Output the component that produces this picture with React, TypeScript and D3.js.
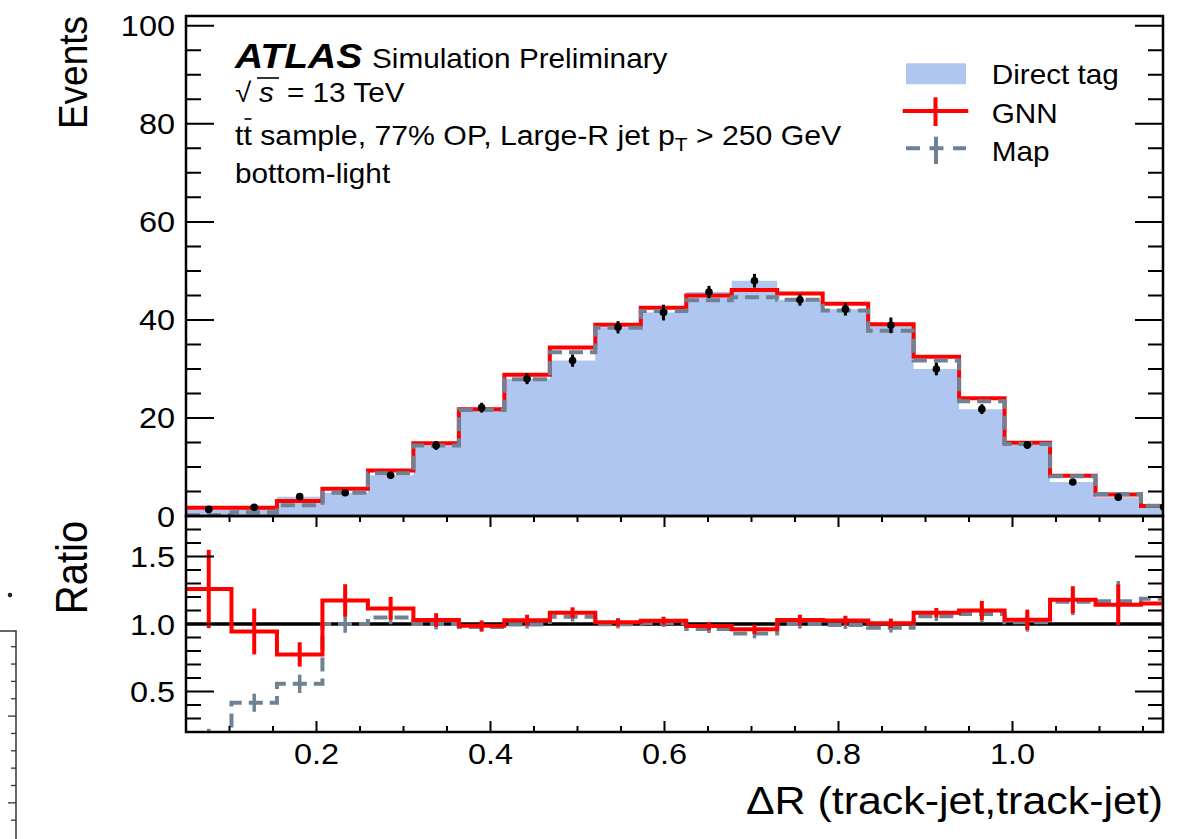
import React from 'react';
import * as d3 from 'd3';

// ---------- data ----------
const binLow = 0.05;
const binHigh = 1.2;
const nBins = 22;
const directTag = [1.35, 1.8, 3.95, 4.75, 8.3, 14.4, 22.1, 28.0, 31.7, 38.5, 41.5, 45.7, 48.0, 44.1, 42.2, 38.9, 30.0, 21.8, 14.5, 6.95, 3.85, 1.77];
const directErr = [0.3, 0.35, 0.5, 0.5, 0.7, 0.9, 1.0, 1.1, 1.25, 1.25, 1.6, 1.25, 1.4, 1.2, 1.3, 1.6, 1.3, 1.0, 0.8, 0.5, 0.4, 0.3];
const gnn = [1.7, 1.7, 3.06, 5.58, 9.26, 14.83, 21.8, 28.8, 34.35, 39.0, 42.5, 45.0, 46.1, 45.4, 43.3, 39.1, 32.5, 24.0, 14.96, 8.2, 4.4, 2.04];
const mapTag = [0.14, 0.75, 2.2, 4.75, 8.7, 14.4, 21.6, 27.9, 33.4, 38.4, 41.8, 44.0, 44.6, 44.1, 41.9, 37.8, 31.7, 23.4, 14.7, 8.1, 4.5, 2.1];
const gnnRatioErr = [0.29, 0.17, 0.09, 0.12, 0.085, 0.05, 0.04, 0.04, 0.04, 0.03, 0.03, 0.03, 0.035, 0.04, 0.035, 0.035, 0.035, 0.07, 0.075, 0.1, 0.15, 0.22];
const mapRatioErr = [0.12, 0.067, 0.068, 0.065, 0.05, 0.04, 0.035, 0.03, 0.035, 0.03, 0.03, 0.03, 0.035, 0.035, 0.03, 0.035, 0.035, 0.06, 0.07, 0.1, 0.15, 0.2];

const xTickLabels = [0.2, 0.4, 0.6, 0.8, 1.0];
const yMainTickLabels = [0, 20, 40, 60, 80, 100];
const yRatioTickLabels = [0.5, 1.0, 1.5];
const legendLabels = ['Direct tag', 'GNN', 'Map'];

// ---------- style ----------
const FONT = 'Liberation Sans, Arial, Helvetica, sans-serif';
const BLUE = '#aec6f0';
const RED = '#ff0000';
const GRAY = '#6f8192';
const SX = 1.1;

const L = 186, R = 1163, T0 = 16, MB = 516, RB = 732;

function Txt({ x, y, size, anchor = 'start', weight = 'normal', italic = false, rotate = 0, children }: any) {
  return (
    <text
      transform={`translate(${x},${y}) scale(${SX},1)${rotate ? ` rotate(${rotate})` : ''}`}
      fontFamily={FONT}
      fontSize={size}
      fontWeight={weight}
      fontStyle={italic ? 'italic' : 'normal'}
      textAnchor={anchor}
      fill="#000"
    >
      {children}
    </text>
  );
}

export default function App() {
  const x = d3.scaleLinear().domain([0.05, 1.173]).range([L, R]);
  const yM = d3.scaleLinear().domain([0, 102]).range([MB, T0]);
  const yR = d3.scaleLinear().domain([0.2, 1.8]).range([RB, MB]);

  const edges = d3.range(nBins + 1).map((i) => binLow + (i * (binHigh - binLow)) / nBins);
  const centers = edges.slice(0, -1).map((e, i) => (e + edges[i + 1]) / 2);

  const stepPts = (vals: number[], ys: any) =>
    vals.flatMap((v, i) => [[x(edges[i]), ys(v)], [x(edges[i + 1]), ys(v)]] as [number, number][]);

  const line = d3.line<[number, number]>().x((d) => d[0]).y((d) => d[1]);
  const area = d3.area<[number, number]>().x((d) => d[0]).y0(yM(0)).y1((d) => d[1]);

  const ratioG = gnn.map((g, i) => g / directTag[i]);
  const ratioM = mapTag.map((m, i) => m / directTag[i]);

  // ticks
  const yMainMinor = d3.range(0, 101, 5);
  const yRatioMinor = d3.range(3, 18).map((v) => v / 10);
  const xMinor = d3.range(2, 24).map((v) => v * 0.05).filter((v) => v > 0.06 && v < 1.17);
  const isMajorX = (v: number) => Math.abs(v * 5 - Math.round(v * 5)) < 1e-6;

  const tickPaths: string[] = [];
  yMainMinor.forEach((v) => {
    const len = v % 20 === 0 ? 28 : 15;
    const yy = yM(v);
    tickPaths.push(`M${L},${yy}h${len}`, `M${R},${yy}h${-len}`);
  });
  yRatioMinor.forEach((v) => {
    const len = Math.abs(v * 2 - Math.round(v * 2)) < 1e-6 ? 28 : 15;
    const yy = yR(v);
    tickPaths.push(`M${L},${yy}h${len}`, `M${R},${yy}h${-len}`);
  });
  xMinor.forEach((v) => {
    const len = isMajorX(v) ? 11 : 6;
    const xx = x(v);
    tickPaths.push(`M${xx},${RB}v${-len}`, `M${xx},${MB}v${len}`);
  });

  // left-edge artifact (neighbouring figure)
  const artTicks = d3.range(0, 11).map((k) => ({ y: 646.7 + k * 17.35, major: k % 5 === 4 }));

  return (
    <svg width={1193} height={839} style={{ position: 'absolute', left: 0, top: 0, background: '#fff' }}>
      <defs>
        <clipPath id="clipMain">
          <rect x={L} y={T0} width={R - L} height={MB - T0} />
        </clipPath>
        <clipPath id="clipRatio">
          <rect x={L} y={MB} width={R - L} height={RB - MB} />
        </clipPath>
      </defs>
      <rect x={0} y={0} width={1193} height={839} fill="#fff" />

      {/* main panel */}
      <g clipPath="url(#clipMain)">
        <path d={area(stepPts(directTag, yM)) || ''} fill={BLUE} />
        <path d={line(stepPts(gnn, yM)) || ''} fill="none" stroke={RED} strokeWidth={4} />
        <path d={line(stepPts(mapTag, yM)) || ''} fill="none" stroke={GRAY} strokeWidth={4} strokeDasharray="14 7" />
        {directTag.map((v, i) => (
          <g key={i}>
            <line x1={x(centers[i])} x2={x(centers[i])} y1={yM(v - directErr[i])} y2={yM(v + directErr[i])} stroke="#000" strokeWidth={3} />
            <circle cx={x(centers[i])} cy={yM(v)} r={3.8} fill="#000" />
          </g>
        ))}
      </g>

      {/* ratio panel */}
      <g clipPath="url(#clipRatio)">
        <line x1={L} x2={R} y1={yR(1)} y2={yR(1)} stroke="#000" strokeWidth={3.5} />
        <path d={line(stepPts(ratioM, yR)) || ''} fill="none" stroke={GRAY} strokeWidth={4} strokeDasharray="14 7" />
        {ratioM.map((v, i) => (
          <line key={i} x1={x(centers[i])} x2={x(centers[i])} y1={yR(v - mapRatioErr[i])} y2={yR(v + mapRatioErr[i])} stroke={GRAY} strokeWidth={3.5} />
        ))}
        <path d={line(stepPts(ratioG, yR)) || ''} fill="none" stroke={RED} strokeWidth={4} />
        {ratioG.map((v, i) => (
          <line key={i} x1={x(centers[i])} x2={x(centers[i])} y1={yR(v - gnnRatioErr[i])} y2={yR(v + gnnRatioErr[i])} stroke={RED} strokeWidth={4} />
        ))}
      </g>

      {/* frames and ticks */}
      <rect x={L} y={T0} width={R - L} height={MB - T0} fill="none" stroke="#000" strokeWidth={2.5} />
      <rect x={L} y={MB} width={R - L} height={RB - MB} fill="none" stroke="#000" strokeWidth={2.5} />
      <path d={tickPaths.join('')} stroke="#000" strokeWidth={2} fill="none" />

      {/* tick labels */}
      {yMainTickLabels.map((v) => (
        <Txt key={v} x={175} y={yM(v) + 10.5} size={29.5} anchor="end">{String(v)}</Txt>
      ))}
      {yRatioTickLabels.map((v) => (
        <Txt key={v} x={175} y={yR(v) + 10.5} size={29.5} anchor="end">{v.toFixed(1)}</Txt>
      ))}
      {xTickLabels.map((v) => (
        <Txt key={v} x={x(v)} y={764} size={29.5} anchor="middle">{v.toFixed(1)}</Txt>
      ))}

      {/* axis titles */}
      <Txt x={87} y={16} size={37} anchor="end" rotate={-90}>Events</Txt>
      <Txt x={87} y={567.5} size={40} anchor="middle" rotate={-90}>Ratio</Txt>
      <Txt x={R} y={814} size={39} anchor="end">ΔR (track-jet,track-jet)</Txt>

      {/* ATLAS label */}
      <Txt x={235} y={68} size={35.5} weight="bold" italic>ATLAS</Txt>
      <Txt x={372} y={68} size={27}>Simulation Preliminary</Txt>
      <Txt x={235} y={102} size={27}>√</Txt>
      <Txt x={259} y={102} size={27} italic>s</Txt>
      <line x1={257} x2={279} y1={78} y2={78} stroke="#000" strokeWidth={1.6} />
      <Txt x={287} y={102} size={27}>= 13 TeV</Txt>
      <text transform={`translate(235,145) scale(${SX},1)`} fontFamily={FONT} fontSize={27.5}>
        tt sample, 77% OP, Large-R jet p
        <tspan fontSize={19} dy={6}>T</tspan>
        <tspan dy={-6}> &gt; 250 GeV</tspan>
      </text>
      <line x1={244.5} x2={251.5} y1={119} y2={119} stroke="#000" strokeWidth={1.6} />
      <Txt x={235} y={183} size={27}>bottom-light</Txt>

      {/* legend */}
      <rect x={906} y={63.3} width={60} height={21} fill={BLUE} />
      <line x1={902.7} x2={968.3} y1={111} y2={111} stroke={RED} strokeWidth={4} />
      <line x1={935.5} x2={935.5} y1={97.3} y2={126} stroke={RED} strokeWidth={4} />
      <line x1={906} x2={966} y1={148.3} y2={148.3} stroke={GRAY} strokeWidth={4} strokeDasharray="14 9.5" />
      <line x1={936} x2={936} y1={136.7} y2={164} stroke={GRAY} strokeWidth={4} />
      <Txt x={991.7} y={83.5} size={27}>{legendLabels[0]}</Txt>
      <Txt x={991.7} y={123.3} size={27}>{legendLabels[1]}</Txt>
      <Txt x={991.7} y={160.7} size={27}>{legendLabels[2]}</Txt>

      {/* neighbouring-figure artifact on the left edge */}
      <path d="M0,631H16V839" fill="none" stroke="#333" strokeWidth={1.5} />
      {artTicks.map((t, i) => (
        <line key={i} x1={16} x2={16 - (t.major ? 8 : 5)} y1={t.y} y2={t.y} stroke="#333" strokeWidth={1.3} />
      ))}
      <circle cx={10} cy={595} r={2.3} fill="#222" />
    </svg>
  );
}
